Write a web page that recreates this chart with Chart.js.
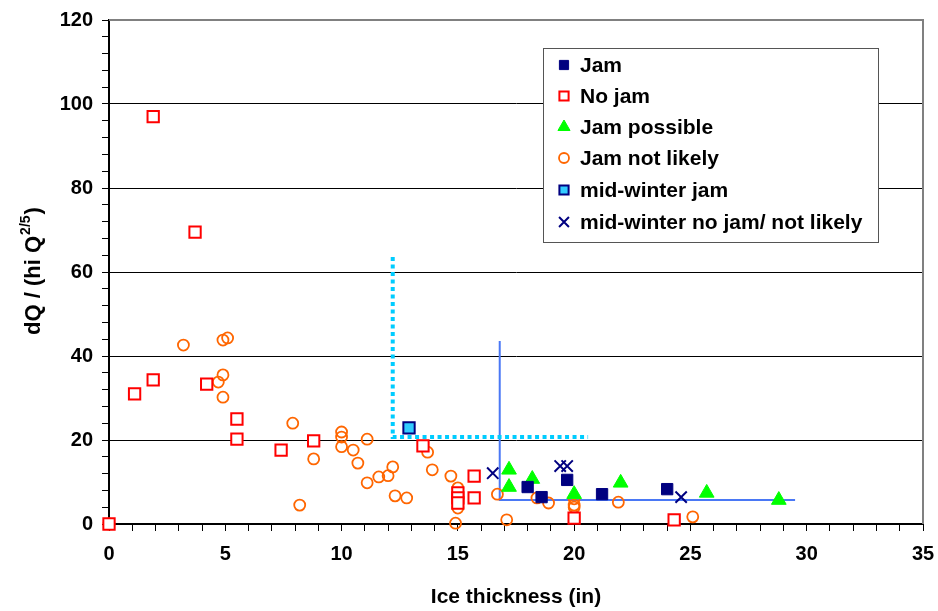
<!DOCTYPE html>
<html lang="en">
<head>
    <meta charset="UTF-8">
    <title>Ice jam scatter</title>
    <script src="https://cdn.jsdelivr.net/npm/chart.js"></script>
    <style>
        body { margin: 0; background: #fff; }
        canvas { display: block; }
    </style>
</head>
<body>
    <canvas id="jamChart" width="938" height="611"></canvas>
    <script>
        // Series: [ice thickness (in), dQ / (hi Q^2/5)]
        const jamPoints = [[18.0, 8.8], [18.6, 6.4], [19.7, 10.5], [21.2, 7.1], [24.0, 8.3]];
        const noJamPoints = [[0, 0], [1.9, 97], [3.7, 69.5], [1.1, 31], [1.9, 34.3], [4.2, 33.3],
            [5.5, 25], [5.5, 20.2], [7.4, 17.6], [8.8, 19.8], [13.5, 18.6], [15.7, 11.4],
            [15.7, 6.2], [15.0, 7.4], [15.0, 6.2], [15.0, 5.0], [20.0, 1.4], [24.3, 1.0]];
        const jamPossiblePoints = [[17.2, 12.9], [17.2, 8.8], [18.2, 10.7], [20.0, 7.1],
            [22.0, 9.8], [25.7, 7.4], [28.8, 5.7]];
        const notLikelyPoints = [[0, 0], [3.2, 42.6], [4.9, 43.8], [5.1, 44.3], [4.9, 35.5],
            [4.7, 33.8], [4.9, 30.2], [7.9, 24.0], [8.2, 4.5], [8.8, 15.5], [10.0, 21.9],
            [10.0, 20.7], [10.0, 18.4], [10.5, 17.6], [10.7, 14.5], [11.1, 20.2], [11.1, 9.8],
            [11.6, 11.2], [12.0, 11.5], [12.2, 13.6], [12.3, 6.7], [12.8, 6.2], [13.7, 17.1],
            [13.9, 12.9], [14.7, 11.4], [15.0, 8.6], [15.0, 3.8], [14.9, 0.2], [16.7, 7.1],
            [17.1, 1.0], [18.4, 6.2], [18.9, 5.0], [20.0, 6.0], [20.0, 4.5], [20.0, 4.0],
            [21.9, 5.2], [25.1, 1.7]];
        const midWinterJamPoints = [[12.9, 22.9]];
        const midWinterNoJamPoints = [[16.5, 12.1], [19.4, 13.8], [19.7, 13.8], [24.6, 6.4]];

        // Threshold lines
        const midWinterLimit = [[12.2, 63.6], [12.2, 20.7], [20.6, 20.7]];
        const jamLimit = [[16.8, 43.6], [16.8, 5.7], [29.5, 5.7]];

        const xMax = 35;
        const yMax = 120;
        const xLabelStep = 5;
        const yLabelStep = 20;

        const FONT = "'Liberation Sans', Arial, sans-serif";

        function toXY(list) {
            return list.map(p => ({ x: p[0], y: p[1] }));
        }

        const pointSets = [
            { label: 'Jam', data: toXY(jamPoints), pointStyle: 'rect', pointRadius: 8,
              backgroundColor: '#000080', borderColor: '#000080', borderWidth: 1, legendRadius: 6.5 },
            { label: 'No jam', data: toXY(noJamPoints), pointStyle: 'rect', pointRadius: 8,
              backgroundColor: '#ffffff', borderColor: '#ff0000', borderWidth: 2, legendRadius: 6.5 },
            { label: 'Jam possible', data: toXY(jamPossiblePoints), pointStyle: 'triangle', pointRadius: 8.5,
              backgroundColor: '#00ff00', borderColor: '#00ff00', borderWidth: 1, legendRadius: 7 },
            { label: 'Jam not likely', data: toXY(notLikelyPoints), pointStyle: 'circle', pointRadius: 5.5,
              backgroundColor: 'rgba(255,255,255,0)', borderColor: '#ff6600', borderWidth: 1.8, legendRadius: 5 },
            { label: 'mid-winter jam', data: toXY(midWinterJamPoints), pointStyle: 'rect', pointRadius: 8,
              backgroundColor: '#33ccff', borderColor: '#000080', borderWidth: 2, legendRadius: 6.5 },
            { label: 'mid-winter no jam/ not likely', data: toXY(midWinterNoJamPoints), pointStyle: 'crossRot', pointRadius: 8,
              backgroundColor: '#000080', borderColor: '#000080', borderWidth: 2, legendRadius: 7 }
        ];

        const datasets = pointSets.map(s => Object.assign({
            showLine: false, clip: false, order: 1,
            pointHoverRadius: s.pointRadius
        }, s));

        datasets.push({
            label: 'mid-winter limit', data: toXY(midWinterLimit), showLine: true, fill: false,
            borderColor: '#00ccff', borderWidth: 4, borderDash: [4, 3.5], pointRadius: 0,
            order: 5, isLimit: true
        });
        datasets.push({
            label: 'jam limit', data: toXY(jamLimit), showLine: true, fill: false,
            borderColor: '#4a78f5', borderWidth: 2, pointRadius: 0,
            order: 5, isLimit: true
        });

        // Frame, axis titles and the boxed legend
        const decorPlugin = {
            id: 'decor',
            afterDraw(chart) {
                const ctx = chart.ctx;
                const a = chart.chartArea;
                ctx.save();

                // grey frame on top and right
                ctx.strokeStyle = '#808080';
                ctx.lineWidth = 2;
                ctx.beginPath();
                ctx.moveTo(a.left, a.top);
                ctx.lineTo(a.right, a.top);
                ctx.lineTo(a.right, a.bottom);
                ctx.stroke();

                // x title
                ctx.fillStyle = '#000';
                ctx.font = 'bold 21px ' + FONT;
                ctx.textAlign = 'center';
                ctx.textBaseline = 'middle';
                ctx.fillText('Ice thickness (in)', (a.left + a.right) / 2, 597);

                // y title with superscript
                ctx.translate(33, (a.top + a.bottom) / 2);
                ctx.rotate(-Math.PI / 2);
                const main = 'dQ / (hi Q';
                const sup = '2/5';
                const tail = ')';
                ctx.font = 'bold 22px ' + FONT;
                const wMain = ctx.measureText(main).width;
                const wTail = ctx.measureText(tail).width;
                ctx.font = 'bold 14px ' + FONT;
                const wSup = ctx.measureText(sup).width;
                let x0 = -(wMain + wSup + wTail) / 2;
                ctx.textAlign = 'left';
                ctx.textBaseline = 'alphabetic';
                ctx.font = 'bold 22px ' + FONT;
                ctx.fillText(main, x0, 7);
                ctx.font = 'bold 14px ' + FONT;
                ctx.fillText(sup, x0 + wMain + 1, -3);
                ctx.font = 'bold 22px ' + FONT;
                ctx.fillText(tail, x0 + wMain + wSup + 2, 7);
                ctx.setTransform(1, 0, 0, 1, 0, 0);

                // legend box
                const box = { left: 543, top: 48, width: 335, height: 194 };
                ctx.fillStyle = '#fff';
                ctx.fillRect(box.left, box.top, box.width, box.height);
                ctx.strokeStyle = '#555';
                ctx.lineWidth = 1;
                ctx.strokeRect(box.left + 0.5, box.top + 0.5, box.width, box.height);

                const rowY = [65, 96, 127, 158, 190, 222];
                chart.data.datasets.filter(d => !d.isLimit).forEach((d, i) => {
                    const y = rowY[i];
                    ctx.fillStyle = d.backgroundColor;
                    ctx.strokeStyle = d.borderColor;
                    ctx.lineWidth = d.borderWidth;
                    Chart.helpers.drawPoint(ctx, {
                        pointStyle: d.pointStyle, radius: d.legendRadius, rotation: 0, borderWidth: d.borderWidth
                    }, 564, y);
                    ctx.fillStyle = '#000';
                    ctx.font = 'bold 21px ' + FONT;
                    ctx.textAlign = 'left';
                    ctx.textBaseline = 'middle';
                    ctx.fillText(d.label, 580, y + 1);
                });

                ctx.restore();
            }
        };

        new Chart(document.getElementById('jamChart'), {
            type: 'scatter',
            data: { datasets: datasets },
            plugins: [decorPlugin],
            options: {
                responsive: false,
                animation: false,
                layout: { padding: { top: 20, right: 15, left: 0, bottom: 0 } },
                plugins: {
                    legend: { display: false },
                    tooltip: { enabled: false }
                },
                scales: {
                    x: {
                        type: 'linear',
                        min: 0, max: xMax,
                        afterFit: scale => {
                            scale.height = 87;
                            scale.paddingLeft = 0;
                            scale.paddingRight = 0;
                        },
                        grid: {
                            drawOnChartArea: false,
                            tickColor: '#000',
                            tickLength: 7
                        },
                        border: { color: '#000', width: 2 },
                        ticks: {
                            stepSize: 1,
                            autoSkip: false,
                            maxRotation: 0,
                            padding: 11,
                            color: '#000',
                            font: { family: FONT, size: 20, weight: 'bold' },
                            callback: v => (v % xLabelStep === 0 ? String(v) : '')
                        }
                    },
                    y: {
                        type: 'linear',
                        min: 0, max: yMax,
                        afterFit: scale => {
                            scale.width = 109;
                            scale.paddingTop = 0;
                            scale.paddingBottom = 0;
                        },
                        grid: {
                            color: c => (c.tick && c.tick.value % yLabelStep === 0 ? '#000' : 'rgba(0,0,0,0)'),
                            lineWidth: 1,
                            tickColor: '#000',
                            tickLength: 7
                        },
                        border: { color: '#000', width: 2 },
                        ticks: {
                            stepSize: 4,
                            autoSkip: false,
                            padding: 9,
                            color: '#000',
                            font: { family: FONT, size: 20, weight: 'bold' },
                            callback: v => (v % yLabelStep === 0 ? String(v) : '')
                        }
                    }
                }
            }
        });
    </script>
</body>
</html>
